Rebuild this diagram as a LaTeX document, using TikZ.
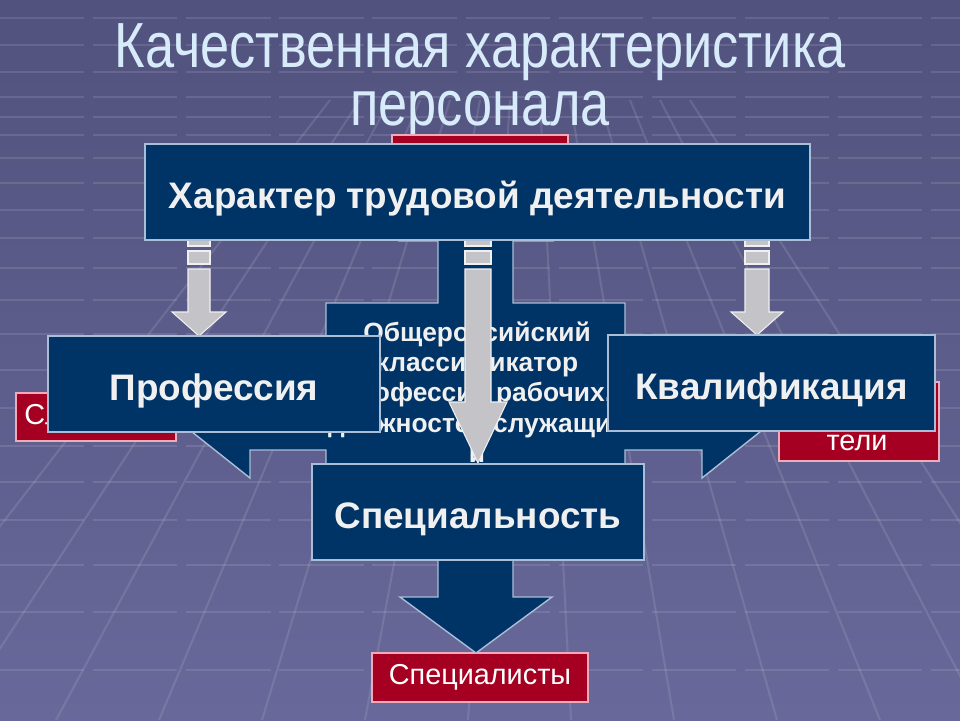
\documentclass[tikz,border=0pt]{standalone}
\usepackage{fontspec}
\setmainfont{Liberation Sans}
\newfontfamily\titlefont[FakeStretch=0.82]{Liberation Sans}

\definecolor{bgtop}{RGB}{82,82,126}
\definecolor{bgbot}{RGB}{104,104,154}
\definecolor{navy}{RGB}{0,51,102}
\definecolor{edgeblue}{RGB}{170,190,215}
\definecolor{darkred}{RGB}{165,0,33}
\definecolor{pinkedge}{RGB}{240,170,185}
\definecolor{titleblue}{RGB}{215,235,250}
\definecolor{arrowgray}{RGB}{196,196,200}

\begin{document}
\begin{tikzpicture}[
    x = 0.02cm, y = -0.02cm,
    line join=miter,
    gridline/.style = {white, opacity=0.11, line width=1.2pt},
    hline/.style = {gridline, dash pattern=on 48pt off 5pt},
    titletext/.style = {text=titleblue, font=\fontsize{36.3}{31.2}\selectfont\titlefont, anchor=base,
                        inner sep=0pt, text depth=0pt},
    navybox/.style = {draw=edgeblue, fill=navy, line width=0.8pt, text=white!94!black, inner sep=0pt,
                      text height=18.4pt, text depth=0pt, font=\fontsize{21}{25}\selectfont\bfseries},
    redtext/.style = {text=white, inner sep=0pt, align=center, font=\fontsize{16.4}{19.8}\selectfont},
    redbox/.style = {redtext, draw=pinkedge, fill=darkred, line width=0.8pt},
    grayarrow/.style = {draw=white!88!gray, fill=arrowgray, line width=0.6pt},
    navyarrow/.style = {draw=edgeblue, fill=navy, line width=0.8pt}
]

\useasboundingbox (0,0) rectangle (960,720);
\fill[top color=bgtop, bottom color=bgbot] (0,0) rectangle (960,720);

% floor grid
\draw[hline] (0,18) -- (960,18) (0,45) -- (960,45) (0,72) -- (960,72) (0,97) -- (960,97)
    (0,117) -- (960,117) (0,135) -- (960,135) (0,158) -- (960,158) (0,183) -- (960,183)
    (0,210) -- (960,210) (0,238) -- (960,238) (0,268) -- (960,268) (0,300) -- (960,300)
    (0,334) -- (960,334) (0,370) -- (960,370) (0,408) -- (960,408) (0,446) -- (960,446)
    (0,482) -- (960,482) (0,520) -- (960,520) (0,565) -- (960,565) (0,612) -- (960,612)
    (0,670) -- (960,670);
\draw[gridline] (330,100) -- (-150,720) (360,100) -- (-47,720) (390,100) -- (56,720)
    (420,100) -- (159,720) (450,100) -- (262,720) (480,100) -- (365,720) (510,100) -- (468,720)
    (540,100) -- (571,720) (570,100) -- (674,720) (600,100) -- (777,720) (630,100) -- (880,720)
    (660,100) -- (983,720) (690,100) -- (1086,720);

% title
\node[titletext, text height=26pt] (title1) at (480,67) {Качественная характеристика};
\node[titletext, text height=19pt] (title2) at (480,125) {персонала};

% categories of staff
\node[redbox, minimum width=3.52cm, minimum height=1.3cm] (redtop) at (480,167.5) {};
\node[redbox, minimum width=3.2cm, minimum height=0.96cm] (redleft) at (96,417) {Служащие};
\node[redbox, minimum width=3.2cm, minimum height=1.58cm] (redright) at (859,421.5) {};
\node[redtext, anchor=base] (redrighttext) at (857,450) {тели};
\node[redbox, minimum width=4.32cm, minimum height=0.98cm] (redbot) at (480,677.5) {Специалисты};

% classifier with four arrows
\draw[navyarrow] (476,184) -- (552,241) -- (513,241) -- (513,303) -- (625,303) -- (625,374)
    -- (702,374) -- (702,346) -- (785,412) -- (702,478) -- (702,450) -- (625,450) -- (625,535)
    -- (513,535) -- (513,597) -- (552,597) -- (476,653) -- (400,597) -- (438,597) -- (438,535)
    -- (326,535) -- (326,450) -- (250,450) -- (250,478) -- (167,412) -- (250,346) -- (250,374)
    -- (326,374) -- (326,303) -- (438,303) -- (438,241) -- (400,241) -- cycle;
\node[text=white!94!black, align=center, font=\fontsize{15}{17.3}\selectfont\bfseries] (okp) at (477,392)
    {Общероссийский\\классификатор\\профессий рабочих,\\должностей служащих\\и};

% striped arrows
\coordinate (ga) at (199,240);
\coordinate (gm) at (478,240);
\coordinate (gr) at (757,240);

\draw[grayarrow] (ga) ++(-11,0) --++ (22,0) --++ (0,6) --++ (-22,0) -- cycle;
\draw[grayarrow] (ga) ++(-11,11) --++ (22,0) --++ (0,13) --++ (-22,0) -- cycle;
\draw[grayarrow] (ga) ++(-11,29) --++ (22,0) --++ (0,43) --++ (16,0) --++ (-27,24) --++ (-27,-24) --++ (16,0) -- cycle;

\draw[grayarrow] (gm) ++(-13,0) --++ (26,0) --++ (0,6) --++ (-26,0) -- cycle;
\draw[grayarrow] (gm) ++(-13,11) --++ (26,0) --++ (0,13) --++ (-26,0) -- cycle;
\draw[grayarrow] (gm) ++(-13,29) --++ (26,0) --++ (0,133) --++ (16,0) --++ (-29,61) --++ (-29,-61) --++ (16,0) -- cycle;

\draw[grayarrow] (gr) ++(-12,0) --++ (24,0) --++ (0,6) --++ (-24,0) -- cycle;
\draw[grayarrow] (gr) ++(-12,11) --++ (24,0) --++ (0,13) --++ (-24,0) -- cycle;
\draw[grayarrow] (gr) ++(-12,29) --++ (24,0) --++ (0,43) --++ (14,0) --++ (-26,23) --++ (-26,-23) --++ (14,0) -- cycle;

% main boxes
\node[navybox, minimum width=13.3cm, minimum height=1.92cm] (main) at (477.5,192) {Характер трудовой деятельности};
\node[navybox, minimum width=6.64cm, minimum height=1.92cm] (prof) at (214,384) {Профессия};
\node[navybox, minimum width=6.54cm, minimum height=1.92cm] (kval) at (771.5,383) {Квалификация};
\node[navybox, minimum width=6.64cm, minimum height=1.92cm] (spec) at (478,512) {Специальность};

\end{tikzpicture}
\end{document}
